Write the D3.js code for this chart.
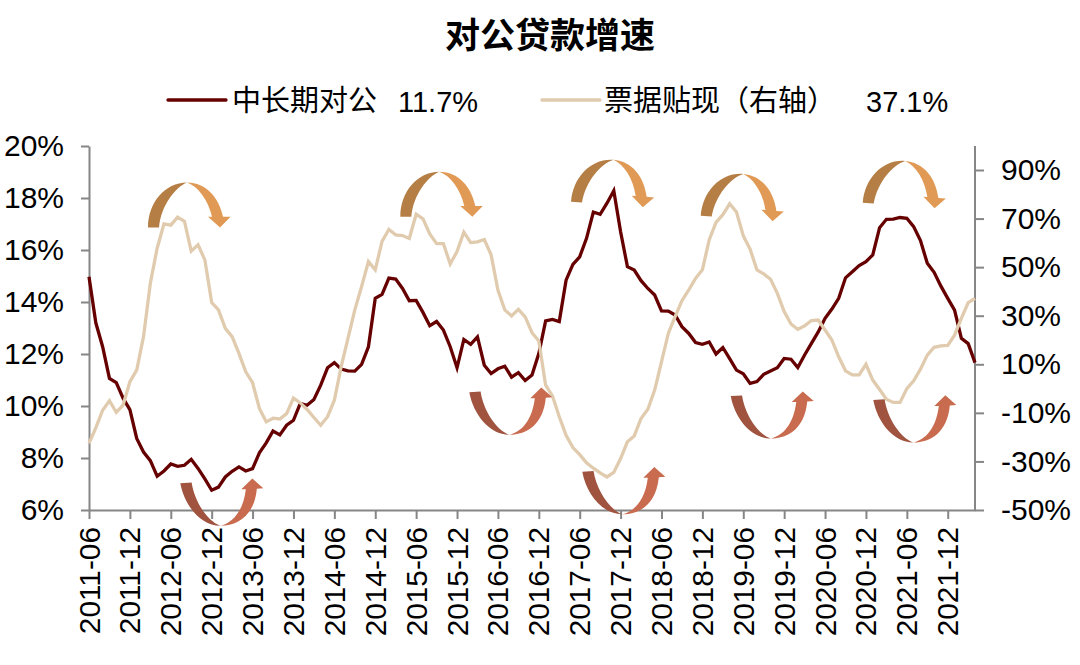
<!DOCTYPE html>
<html lang="zh">
<head>
<meta charset="utf-8">
<style>
html,body{margin:0;padding:0;background:#fff;}
svg{display:block;}
text{font-family:"Liberation Sans","Noto Sans CJK SC",sans-serif;fill:#000;}
</style>
<script src="https://cdn.jsdelivr.net/npm/d3@7"></script>
</head>
<body>
<svg id="chart" width="1080" height="665"></svg>
<script>
const titleText = "对公贷款增速";
const seriesNames = ["中长期对公", "票据贴现（右轴）"];
const latestLabels = ["11.7%", "37.1%"];
const leftTicks = [6, 8, 10, 12, 14, 16, 18, 20];
const rightTicks = [-50, -30, -10, 10, 30, 50, 70, 90];
const months = d3.utcMonths(new Date(Date.UTC(2011, 5, 1)), new Date(Date.UTC(2022, 4, 1))).map(d3.utcFormat("%Y-%m"));
const monthTicks = ["2011-06","2011-12","2012-06","2012-12","2013-06","2013-12","2014-06","2014-12","2015-06","2015-12","2016-06","2016-12","2017-06","2017-12","2018-06","2018-12","2019-06","2019-12","2020-06","2020-12","2021-06","2021-12"];

const longTermCorporate = [
14.97,13.2,12.28,11.06,10.9,10.3,9.86,8.75,8.23,7.9,
7.3,7.5,7.77,7.68,7.72,7.95,7.6,7.2,6.76,6.88,
7.27,7.49,7.66,7.5,7.59,8.2,8.58,9.04,8.89,9.26,
9.45,10.1,10.03,10.25,10.8,11.47,11.67,11.42,11.35,11.34,
11.6,12.28,14.14,14.29,14.92,14.88,14.52,14.05,14.06,13.6,
13.09,13.25,12.92,12.28,11.47,12.56,12.37,12.66,11.57,11.25,
11.43,11.53,11.11,11.28,10.98,11.19,12.02,13.27,13.33,13.25,
14.84,15.45,15.74,16.45,17.46,17.37,17.8,18.28,16.7,15.36,
15.23,14.82,14.52,14.27,13.66,13.65,13.5,13.05,12.79,12.44,
12.37,12.46,12.0,12.25,11.82,11.38,11.24,10.87,10.94,11.22,
11.35,11.47,11.83,11.8,11.48,11.96,12.41,12.85,13.37,13.73,
14.14,14.93,15.16,15.4,15.55,15.81,16.86,17.18,17.19,17.25,
17.22,16.9,16.36,15.49,15.14,14.61,14.14,13.69,12.6,12.4,
11.67];

const billDiscount = [
-22.6,-16.2,-8.9,-5,-9.8,-6.8,2.8,7.6,21.4,43.4,
57.8,67.8,67.3,70.6,68.9,56.6,59.2,53,35.4,32.4,
24.8,21.4,14.5,6.9,2.4,-8.2,-13.7,-12.2,-12.5,-10.3,
-3.9,-5.9,-8.6,-11.9,-15.1,-11.6,-4.8,9,20.7,32.4,
42,52.3,48.9,60.6,65.5,63.3,63,61.8,71.8,69.9,
63.7,59.7,59.7,51.3,56.4,64.4,60.1,60.4,61.4,55.1,
40.6,32.4,29.9,32.6,29.5,23,19.6,1.4,-3,-11.6,
-19.2,-24.3,-27.2,-30.6,-32.8,-34.7,-36.4,-34.5,-28.8,-21.9,
-19.5,-12.3,-8.5,-0.6,11,22.7,29.6,36.2,40.6,45.4,
48.9,61.2,68.4,71.6,76.1,72.7,62.9,57.4,48.9,47.2,
45,39.2,31.7,26.6,24.4,25.8,28,28.2,24.1,20,
13.1,7.3,5.6,5.6,10,3.5,-0.4,-4.4,-5.7,-5.7,
0,3.2,8,13.8,17,17.6,17.8,22,28.9,35.4,
37.1];

/* Curved trend arrows, anchored in data terms: months since the first point, level on the left axis, tilt */
const archMonthOffsets = [8.66, 45.68, 70.73, 89.76, 113.53];
const archLevels = [16.87, 17.28, 17.86, 17.32, 17.82];
const archTilts = [0, 0, 4.5, 4.5, 4.5];
const cupMonthOffsets = [13.4, 55.8, 72.38, 94.16, 115.08];
const cupLevels = [7.03, 10.53, 7.47, 10.38, 10.23];

const svg = d3.select("#chart");
const x = d3.scalePoint().domain(months).range([89, 975]);
const yL = d3.scaleLinear().domain([6, 20]).range([510, 146]);
const yR = d3.scaleLinear().domain([-50, 90]).range([510, 170]);
const xAt = m => x(months[0]) + m * x.step();

const axisColor = "#868686";
const maroon = "#660000";
const beige = "#E0CBAE";
function styleAxis(g, fs) {
  g.selectAll("path.domain").attr("stroke", axisColor).attr("stroke-width", 2);
  g.selectAll(".tick line").attr("stroke", axisColor).attr("stroke-width", 2);
  g.selectAll("text").attr("font-size", fs).attr("fill", "#000")
    .attr("font-family", '"Liberation Sans","Noto Sans CJK SC",sans-serif');
}
const fmt = d => d + "%";
const gL = svg.append("g").attr("transform", "translate(89,0)")
  .call(d3.axisLeft(yL).tickValues(leftTicks).tickFormat(fmt).tickSize(8).tickSizeOuter(0).tickPadding(17));
styleAxis(gL, 30);
const gR = svg.append("g").attr("transform", "translate(975,0)")
  .call(d3.axisRight(yR).tickValues(rightTicks).tickFormat(fmt).tickSize(9).tickSizeOuter(0).tickPadding(17));
styleAxis(gR, 30);
/* right spine runs the full plot height, above its top tick */
gR.select("path.domain").attr("d", `M0,${yL(20)}V${yL(6)}`);
const gX = svg.append("g").attr("transform", "translate(0,510)")
  .call(d3.axisBottom(x).tickValues(monthTicks).tickSize(9).tickSizeOuter(0).tickPadding(0));
styleAxis(gX, 29.8);
gX.selectAll("text")
  .attr("text-anchor", "end").attr("dy", 0).attr("y", 0).attr("x", 0)
  .attr("transform", "translate(-0.5,17) rotate(-90)")
  .attr("dominant-baseline", "central");

const lineL = d3.line().x((d, i) => x(months[i])).y(d => yL(d));
const lineR = d3.line().x((d, i) => x(months[i])).y(d => yR(d));
svg.append("path").attr("d", lineL(longTermCorporate)).attr("fill", "none").attr("stroke", maroon).attr("stroke-width", 3.3);
svg.append("path").attr("d", lineR(billDiscount)).attr("fill", "none").attr("stroke", beige).attr("stroke-width", 3.3);

/* arrow glyphs */
const archLeft = "M0,0C0,-25 17,-45 39,-45C27,-40 13,-22 11,0Z";
const archRight = "M39,-45C58,-45 71,-30 75,-10.7L82.5,-10.7L72,0L60,-10.7L64,-10.7C60,-28 50,-41 39,-45Z";
const cupLeft = "M0,0C4,22 20,42.5 40,42.5C27,38 14,18 11.3,-0.7Z";
const cupRight = "M40,42.5C58,42.5 74,32 76.5,5.5L83,5L72,-4.7L61,6L65.5,6C63,28 52,40 40,42.5Z";
archMonthOffsets.forEach((m, i) => {
  const g = svg.append("g").attr("transform", `translate(${xAt(m)},${yL(archLevels[i])}) rotate(${archTilts[i]})`);
  g.append("path").attr("d", archLeft).attr("fill", "#B57E44");
  g.append("path").attr("d", archRight).attr("fill", "#E19A55");
});
cupMonthOffsets.forEach((m, i) => {
  const g = svg.append("g").attr("transform", `translate(${xAt(m)},${yL(cupLevels[i])})`);
  g.append("path").attr("d", cupLeft).attr("fill", "#A05440");
  g.append("path").attr("d", cupRight).attr("fill", "#C96B4E");
});

/* title */
svg.append("text").attr("x", 550).attr("y", 48).attr("text-anchor", "middle")
  .attr("font-size", 35).attr("font-weight", "bold").text(titleText);

/* legend */
svg.append("line").attr("x1", 168).attr("x2", 226).attr("y1", 100).attr("y2", 100).attr("stroke", maroon).attr("stroke-width", 3.3).attr("stroke-linecap", "round");
svg.append("text").attr("x", 232).attr("y", 111).attr("font-size", 29).text(seriesNames[0]);
svg.append("text").attr("x", 398).attr("y", 112).attr("font-size", 29).text(latestLabels[0]);
svg.append("line").attr("x1", 542).attr("x2", 600).attr("y1", 100).attr("y2", 100).attr("stroke", beige).attr("stroke-width", 3.3).attr("stroke-linecap", "round");
svg.append("text").attr("x", 604).attr("y", 111).attr("font-size", 29).text(seriesNames[1]);
svg.append("text").attr("x", 866).attr("y", 112).attr("font-size", 29).text(latestLabels[1]);
</script>
</body>
</html>
